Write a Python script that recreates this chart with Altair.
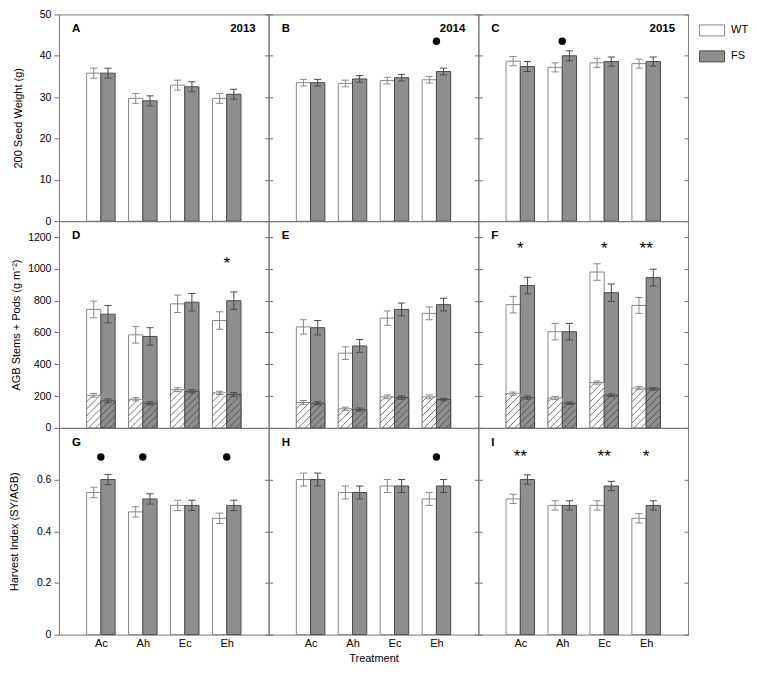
import json
import altair as alt
import numpy as np
import pandas as pd

TREATMENTS = ["Ac", "Ah", "Ec", "Eh"]
YEARS = ["2013", "2014", "2015"]
GENOTYPES = ["WT", "FS"]
LETTERS = [["A", "B", "C"], ["D", "E", "F"], ["G", "H", "I"]]

# Row 1: 200 seed weight (g)
sw_wt = {"2013": [35.8, 29.7, 32.9, 29.7], "2014": [33.5, 33.3, 34.0, 34.2], "2015": [38.7, 37.2, 38.3, 38.1]}
sw_wt_se = {"2013": [1.2, 1.2, 1.2, 1.2], "2014": [0.8, 0.8, 0.8, 0.8], "2015": [1.1, 1.1, 1.1, 1.1]}
sw_fs = {"2013": [35.8, 29.1, 32.5, 30.7], "2014": [33.5, 34.4, 34.7, 36.2], "2015": [37.4, 40.0, 38.6, 38.6]}
sw_fs_se = {"2013": [1.2, 1.2, 1.2, 1.2], "2014": [0.8, 0.8, 0.8, 0.8], "2015": [1.2, 1.2, 1.1, 1.1]}

# Row 2: AGB stems + pods (whole bar) and the hatched lower part
agb_wt = {"2013": [745, 585, 780, 675], "2014": [635, 470, 690, 720], "2015": [775, 605, 980, 770]}
agb_wt_se = {"2013": [52, 52, 55, 55], "2014": [45, 40, 45, 40], "2015": [52, 52, 52, 50]}
agb_fs = {"2013": [715, 575, 790, 800], "2014": [630, 515, 745, 775], "2015": [895, 605, 850, 945]}
agb_fs_se = {"2013": [55, 55, 55, 55], "2014": [45, 40, 40, 40], "2015": [52, 52, 55, 53]}
low_wt = {"2013": [205, 180, 240, 220], "2014": [160, 120, 195, 195], "2015": [215, 188, 285, 250]}
low_wt_se = {"2013": [12, 10, 12, 10], "2014": [12, 10, 12, 12], "2015": [10, 10, 10, 10]}
low_fs = {"2013": [170, 155, 230, 210], "2014": [155, 115, 190, 178], "2015": [190, 155, 205, 245]}
low_fs_se = {"2013": [12, 10, 10, 12], "2014": [10, 10, 10, 8], "2015": [10, 8, 8, 8]}

# Row 3: harvest index
hi_wt = {"2013": [0.55, 0.475, 0.50, 0.45], "2014": [0.60, 0.55, 0.575, 0.525], "2015": [0.525, 0.50, 0.50, 0.45]}
hi_wt_se = {"2013": [0.02, 0.02, 0.02, 0.02], "2014": [0.025, 0.025, 0.025, 0.025], "2015": [0.018, 0.018, 0.018, 0.018]}
hi_fs = {"2013": [0.60, 0.525, 0.50, 0.50], "2014": [0.60, 0.55, 0.575, 0.575], "2015": [0.60, 0.50, 0.575, 0.50]}
hi_fs_se = {"2013": [0.02, 0.02, 0.02, 0.02], "2014": [0.025, 0.025, 0.025, 0.025], "2015": [0.018, 0.018, 0.018, 0.018]}

# significance markers: row, year, treatment, marker, y position
sig_row = [0, 0, 1, 1, 1, 1, 2, 2, 2, 2, 2, 2, 2]
sig_year = ["2014", "2015", "2013", "2015", "2015", "2015", "2013", "2013", "2013", "2014", "2015", "2015", "2015"]
sig_treat = ["Eh", "Ah", "Eh", "Ac", "Ec", "Eh", "Ac", "Ah", "Eh", "Eh", "Ac", "Ec", "Eh"]
sig_mark = ["●", "●", "*", "*", "*", "**", "●", "●", "●", "●", "**", "**", "*"]
sig_y = [43.5, 43.5, 1050, 1145, 1145, 1145, 0.687, 0.687, 0.687, 0.687, 0.70, 0.70, 0.70]

ROWS = [
    dict(title="200 Seed Weight (g)", domain=[0, 50], ticks=[0, 10, 20, 30, 40, 50],
         wt=sw_wt, wt_se=sw_wt_se, fs=sw_fs, fs_se=sw_fs_se, titleX=-37),
    dict(title="AGB Stems + Pods (g m⁻²)", domain=[0, 1300], ticks=[0, 200, 400, 600, 800, 1000, 1200],
         wt=agb_wt, wt_se=agb_wt_se, fs=agb_fs, fs_se=agb_fs_se, titleX=-39),
    dict(title="Harvest Index (SY/AGB)", domain=[0, 0.8], ticks=[0, 0.2, 0.4, 0.6],
         wt=hi_wt, wt_se=hi_wt_se, fs=hi_fs, fs_se=hi_fs_se, titleX=-41),
]

W, H = 210, 207
XDOM = [0, 5]
BAR_W = 0.34
CAP = 0.085
HATCH_STEP = 7.0

FILL_SCALE = alt.Scale(domain=GENOTYPES, range=["#ffffff", "#8e8e8e"])
STROKE_SCALE = alt.Scale(domain=GENOTYPES, range=["#8a8a8a", "#4a4a4a"])
LEGEND = alt.Legend(title=None, orient="none", legendX=3 * W + 11, legendY=3,
                    symbolType="M-1,-0.44H1V0.44H-1Z", symbolSize=625,
                    symbolStrokeColor="#707070", symbolStrokeWidth=1,
                    labelFontSize=11, labelOffset=6, rowPadding=5, padding=0)


def bar_frame(wt, wt_se, fs, fs_se, year):
    recs = []
    for i, t in enumerate(TREATMENTS):
        pos = i + 1
        for g, vals, ses, off in (("WT", wt, wt_se, -BAR_W), ("FS", fs, fs_se, 0.0)):
            v = vals[year][i]
            e = ses[year][i]
            x = pos + off
            recs.append(dict(geno=g, treat=t, x=x, x2=x + BAR_W, xc=x + BAR_W / 2,
                             cl=x + BAR_W / 2 - CAP, cr=x + BAR_W / 2 + CAP,
                             val=v, base=0.0, lo=v - e, hi=v + e))
    return pd.DataFrame(recs)


def hatch_frame(df, ymax):
    ppx = W / (XDOM[1] - XDOM[0])
    ppy = H / ymax
    recs = []
    for _, r in df.iterrows():
        x0p, x1p = r["x"] * ppx, r["x2"] * ppx
        h = r["val"] * ppy
        kmin = int(np.floor(-h / HATCH_STEP)) - 1
        kmax = int(np.ceil((x1p - x0p) / HATCH_STEP)) + 1
        for k in range(kmin, kmax + 1):
            c = x0p + k * HATCH_STEP + 2
            a = max(x0p, c)
            b = min(x1p, c + h)
            if b - a > 0.6:
                recs.append(dict(hx=a / ppx, hy=(a - c) / ppy, hx2=b / ppx, hy2=(b - c) / ppy))
    return pd.DataFrame(recs)


def panel(ri, ci):
    row = ROWS[ri]
    year = YEARS[ci]
    df = bar_frame(row["wt"], row["wt_se"], row["fs"], row["fs_se"], year)
    yscale = alt.Scale(domain=row["domain"], nice=False, zero=True)
    xscale = alt.Scale(domain=XDOM, nice=False, zero=False)

    if ri == 2:
        xaxis = alt.Axis(values=[1, 2, 3, 4],
                         labelExpr=json.dumps([""] + TREATMENTS) + "[datum.value]",
                         ticks=False, domain=False, grid=False, labelPadding=3,
                         labelFontSize=11, title="Treatment" if ci == 1 else None,
                         titlePadding=4, titleFontSize=11, titleFontWeight="normal")
    else:
        xaxis = None

    def X(f):
        return alt.X(f, type="quantitative", scale=xscale, axis=xaxis)

    if ci == 0:
        laxis = alt.Axis(values=row["ticks"], format="~r", title=row["title"], orient="left",
                         tickSize=5, labelPadding=3, domain=False, grid=False,
                         titleX=row["titleX"], titleY=H / 2, titleAngle=-90,
                         titleBaseline="alphabetic", titleFontSize=11, titleFontWeight="normal")
    else:
        laxis = alt.Axis(values=row["ticks"], labels=False, title=None, orient="left",
                         tickSize=4, offset=-4, domain=False, grid=False)
    raxis = alt.Axis(values=row["ticks"], labels=False, title=None, orient="right",
                     tickSize=4, offset=-4, domain=False, grid=False)

    def Y(f, axis=None):
        return alt.Y(f, type="quantitative", scale=yscale, axis=axis)

    base = alt.Chart(df)
    layers = []
    layers.append(base.mark_bar(strokeWidth=1).encode(
        x=X("x"), x2="x2", y=Y("val", laxis), y2="base",
        fill=alt.Fill("geno:N", scale=FILL_SCALE, legend=LEGEND),
        stroke=alt.Stroke("geno:N", scale=STROKE_SCALE, legend=None)))

    if ri == 1:
        ldf = bar_frame(low_wt, low_wt_se, low_fs, low_fs_se, year)
        lbase = alt.Chart(ldf)
        layers.append(lbase.mark_bar(strokeWidth=1).encode(
            x=X("x"), x2="x2", y=Y("val"), y2="base",
            fill=alt.Fill("geno:N", scale=FILL_SCALE, legend=LEGEND),
            stroke=alt.Stroke("geno:N", scale=STROKE_SCALE, legend=None)))
        hdf = hatch_frame(ldf, row["domain"][1])
        layers.append(alt.Chart(hdf).mark_rule(color="#3a3a3a", strokeWidth=0.7).encode(
            x=X("hx"), x2="hx2", y=Y("hy"), y2="hy2"))
        layers.append(lbase.mark_rule(strokeWidth=1).encode(
            x=X("xc"), y=Y("lo"), y2="hi",
            stroke=alt.Stroke("geno:N", scale=STROKE_SCALE, legend=None)))
        for f in ("lo", "hi"):
            layers.append(lbase.mark_rule(strokeWidth=1).encode(
                x=X("cl"), x2="cr", y=Y(f),
                stroke=alt.Stroke("geno:N", scale=STROKE_SCALE, legend=None)))

    layers.append(base.mark_rule(strokeWidth=1).encode(
        x=X("xc"), y=Y("lo", raxis), y2="hi",
        stroke=alt.Stroke("geno:N", scale=STROKE_SCALE, legend=None)))
    for f in ("lo", "hi"):
        layers.append(base.mark_rule(strokeWidth=1).encode(
            x=X("cl"), x2="cr", y=Y(f),
            stroke=alt.Stroke("geno:N", scale=STROKE_SCALE, legend=None)))

    sig = pd.DataFrame(dict(row=sig_row, year=sig_year, treat=sig_treat, mark=sig_mark, y=sig_y))
    sig = sig[(sig["row"] == ri) & (sig["year"] == year)].copy()
    sig["xc"] = [TREATMENTS.index(t) + 1 for t in sig["treat"]]
    dots = sig[sig["mark"] == "●"]
    stars = sig[sig["mark"] != "●"]
    if len(dots):
        layers.append(alt.Chart(dots).mark_point(shape="circle", filled=True, size=55,
                                                  color="black", opacity=1).encode(
            x=X("xc"), y=Y("y")))
    if len(stars):
        layers.append(alt.Chart(stars).mark_text(fontSize=17, baseline="middle", dy=3,
                                                  color="black").encode(
            x=X("xc"), y=Y("y"), text="mark:N"))

    lab = pd.DataFrame(dict(t=[LETTERS[ri][ci]]))
    layers.append(alt.Chart(lab).mark_text(align="left", baseline="top", fontSize=11.5,
                                           fontWeight="bold", color="black").encode(
        x=alt.value(13), y=alt.value(9), text="t:N"))
    if ri == 0:
        yl = pd.DataFrame(dict(t=[year]))
        layers.append(alt.Chart(yl).mark_text(align="right", baseline="top", fontSize=11.5,
                                              fontWeight="bold", color="black").encode(
            x=alt.value(W - 13), y=alt.value(9), text="t:N"))

    return alt.layer(*layers).resolve_axis(y="independent").properties(width=W, height=H)


panels = [panel(ri, ci) for ri in range(3) for ci in range(3)]

chart = alt.concat(*panels, columns=3, spacing=0, bounds="flush").resolve_scale(
    x="independent", y="independent", fill="shared", stroke="shared"
).properties(
    padding={"left": 0, "top": 0, "right": 0, "bottom": 0},
    autosize=alt.AutoSizeParams(type="pad")
).configure(
    font="Liberation Sans"
).configure_view(
    stroke="#777777", strokeWidth=1
).configure_axis(
    labelFontSize=10.5, labelColor="#000000", titleColor="#000000",
    tickColor="#707070", tickWidth=1
).configure_legend(
    labelColor="#000000"
)

chart.save("out.html", embed_options={"renderer": "svg", "actions": False})
